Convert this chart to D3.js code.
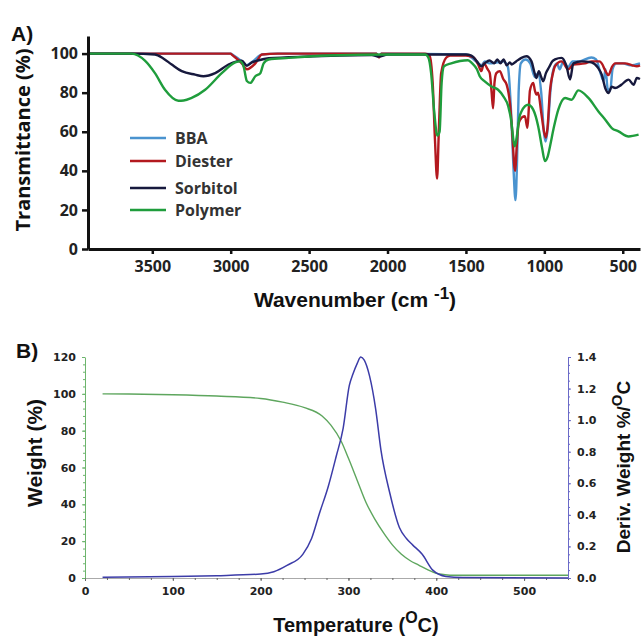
<!DOCTYPE html>
<html>
<head>
<meta charset="utf-8">
<script src="https://cdn.jsdelivr.net/npm/d3@7"></script>
<style>
  body { margin: 0; background: #fff; }
  svg { display: block; }
  .lblA { font-family: "Open Sans", sans-serif; font-weight: 700; font-size: 16px; fill: #222; }
  .lblB { font-family: "DejaVu Sans", sans-serif; font-weight: 700; font-size: 11px; fill: #222; }
  .title { font-family: "Liberation Sans", Arial, sans-serif; font-weight: 700; fill: #111; }
</style>
</head>
<body>
<div id="chart"></div>
<script>
// ---- Panel A data: [wavenumber, transmittance %]
var bba = [[3910,100],[3000,100],[2990,99.5],[2929,96],[2900,94],[2860,96],[2800,99.5],[2700,100],[2070,100],[2054,98.5],[2040,100],
  [1500,99.5],[1450,97],[1400,94],[1380,96],[1350,95],[1300,95.5],[1260,96],[1232,93],[1212,70],[1196,40],[1184,25],[1174,45],
  [1164,80],[1150,95],[1120,97],[1090,95],[1060,88],[1040,90],[1020,80],[1003,60],[992,55],[978,62],[962,80],[942,92],[920,95],
  [902,92],[880,96],[850,93],[820,96],[780,96],[700,98],[670,97],[642,90],[622,86],[610,92],[596,82],[580,81],[565,92],[540,95],
  [500,95],[450,94],[390,95]];
var diester = [[3910,100],[3000,100],[2993,99.5],[2929,95],[2897,92],[2843,95],[2801,99.5],[2700,100],[2070,100],[2054,98],[2040,100],
  [1760,100],[1732,99],[1712,85],[1697,55],[1684,36],[1673,60],[1658,90],[1625,98],[1600,99],[1500,99],[1450,98],[1420,94],
  [1402,91],[1385,95],[1362,92],[1348,90],[1336,80],[1327,72],[1318,85],[1306,90],[1284,91],[1262,87],[1240,84],[1220,75],
  [1205,60],[1191,42],[1185,40],[1178,50],[1166,63],[1156,66],[1124,68],[1108,62],[1099,72],[1092,81],[1071,85],[1060,81],
  [1050,79],[1040,80],[1020,70],[1002,60],[990,57],[980,62],[964,81],[945,90],[932,93.5],[890,96],[847,92],[815,94.4],
  [741,95],[698,96],[650,96],[634,95],[610,91],[591,89],[570,93],[549,95],[485,95],[440,94],[410,93.5],[390,94]];
var sorbitol = [[3910,100],[3632,100],[3483,99.5],[3430,97.5],[3376,94.4],[3312,91],[3227,89.2],[3174,88.4],[3140,88.8],
  [3099,90],[3014,94.4],[2961,96],[2929,96.4],[2897,93.8],[2865,95.5],[2822,96.6],[2758,97.6],[2500,98.5],[2100,99.3],
  [2054,98.5],[2000,99.5],[1500,99.5],[1465,99],[1430,96],[1402,93.5],[1380,95],[1350,96.5],[1320,95],[1300,97],[1280,95],
  [1260,97],[1240,94],[1220,95.5],[1208,94.4],[1180,96],[1146,97.8],[1114,98.6],[1082,96],[1062,90],[1050,87.5],[1035,91],
  [1020,88],[1007,85.8],[990,90],[970,93],[950,96],[932,97],[890,97.8],[860,94],[836,86.7],[815,95],[762,96],[700,95.5],
  [660,93],[634,89.2],[610,82],[591,79.8],[570,83],[549,82.4],[510,84],[463,86.7],[431,84],[410,87.5],[390,87]];
var polymer = [[3910,100],[3632,100],[3547,96.4],[3483,90],[3419,81.5],[3334,75.9],[3300,76],[3249,77.3],[3163,81.5],
  [3057,90],[2971,95.5],[2940,96],[2918,93.5],[2897,86],[2875,85],[2843,88.4],[2811,90],[2790,95],[2758,97],[2630,97.8],
  [2374,99],[2000,99.5],[1760,99.5],[1740,98],[1722,90],[1702,70],[1682,58],[1668,60],[1655,85],[1640,93.5],[1594,95],
  [1487,96.6],[1460,95],[1430,92],[1412,88.4],[1380,85.8],[1337,83.2],[1295,81.5],[1260,78],[1230,73],[1210,65],[1196,55],
  [1188,52.5],[1175,58],[1160,67],[1146,70.4],[1103,73.8],[1071,71.3],[1039,62.7],[1015,52],[996,45],[980,47],[964,52.5],
  [940,62],[911,71.3],[868,77.3],[826,76.4],[783,81.2],[719,77.3],[655,70.4],[610,66],[570,61.9],[527,60.2],[463,57.6],[399,58.5]];
var seriesA = [
  {name: "BBA", values: bba, color: "#4a93cf"},
  {name: "Diester", values: diester, color: "#b3191f"},
  {name: "Sorbitol", values: sorbitol, color: "#17193d"},
  {name: "Polymer", values: polymer, color: "#1f9d3c"}
];
var wnTicks = [3500, 3000, 2500, 2000, 1500, 1000, 500];
var transTicks = [0, 20, 40, 60, 80, 100];

// ---- Panel B data: [temperature C, value]
var weight = [[20,100],[50,99.9],[100,99.5],[150,98.8],[200,97.5],[225,95.5],[250,92.5],[270,88],[280,83],[292,74],[300,65],
  [310,53],[320,41],[330,32],[340,24.5],[350,18],[360,13],[370,9.5],[380,7],[390,4.5],[400,2.5],[410,1.8],[420,1.5],[550,1.5]];
var deriv = [[20,0.005],[100,0.01],[150,0.015],[200,0.025],[215,0.04],[230,0.08],[248,0.15],[258,0.25],[267,0.41],[277,0.58],
  [286,0.77],[294,0.95],[301,1.22],[305,1.29],[310,1.36],[314,1.40],[318,1.38],[324,1.28],[331,1.07],[337,0.81],[347,0.54],
  [358,0.32],[366,0.25],[373,0.21],[384,0.15],[396,0.05],[411,0.01],[430,0.003],[550,0.0]];
var tempTicks = [0, 100, 200, 300, 400, 500];
var weightTicks = [0, 20, 40, 60, 80, 100, 120];
var derivTicks = [0, 0.2, 0.4, 0.6, 0.8, 1.0, 1.2, 1.4];

var svg = d3.select("#chart").append("svg").attr("width", 641).attr("height", 639);

// ================= Panel A =================
var xA = d3.scaleLinear().domain([3910, 390]).range([88, 640]);
var yA = d3.scaleLinear().domain([0, 109]).range([249, 36]);

var lineA = d3.line().x(d => xA(d[0])).y(d => yA(d[1])).curve(d3.curveMonotoneX);

svg.append("g").selectAll("path")
  .data(seriesA).enter().append("path")
  .attr("d", d => lineA(d.values))
  .attr("fill", "none")
  .attr("stroke", d => d.color)
  .attr("stroke-width", 2.4)
  .attr("stroke-linejoin", "round");

var axA_x = svg.append("g").attr("transform", "translate(0,249)")
  .call(d3.axisBottom(xA).tickValues(wnTicks).tickFormat(d3.format("d")).tickSize(5).tickPadding(7).tickSizeOuter(0));
var axA_y = svg.append("g").attr("transform", "translate(88,0)")
  .call(d3.axisLeft(yA).tickValues(transTicks).tickSize(6).tickPadding(4).tickSizeOuter(0));
[axA_x, axA_y].forEach(g => {
  g.select(".domain").attr("stroke", "#111").attr("stroke-width", 3);
  g.selectAll(".tick line").attr("stroke", "#111").attr("stroke-width", 2.5);
  g.selectAll(".tick text").attr("class", "lblA").attr("fill", null);
  g.attr("font-size", null).attr("font-family", null);
});

svg.append("text").attr("class", "title").attr("x", 11).attr("y", 41).attr("font-size", 21).text("A)");
svg.append("text").attr("class", "title")
  .attr("transform", "translate(30,140) rotate(-90)")
  .attr("text-anchor", "middle").attr("font-size", 20)
  .style("font-family", "'Open Sans', sans-serif")
  .text("Transmittance (%)");
var wnTitle = svg.append("text").attr("class", "title")
  .attr("x", 355).attr("y", 307).attr("text-anchor", "middle").attr("font-size", 21);
wnTitle.append("tspan").text("Wavenumber (cm ");
wnTitle.append("tspan").attr("dy", -8).attr("font-size", 17).text("-1");
wnTitle.append("tspan").attr("dy", 8).text(")");

// legend
var legY = [138, 161, 188, 210];
var leg = svg.append("g").selectAll("g").data(seriesA).enter().append("g")
  .attr("transform", (d, i) => "translate(130," + legY[i] + ")");
leg.append("line").attr("x1", 0).attr("x2", 36).attr("stroke", d => d.color).attr("stroke-width", 2.4);
leg.append("text").attr("class", "lblA").attr("x", 45).attr("dy", "0.35em").style("fill", "#333").text(d => d.name);

// ================= Panel B =================
var xB = d3.scaleLinear().domain([0, 550]).range([85, 568]);
var yB = d3.scaleLinear().domain([0, 120]).range([578, 357]);
var yB2 = d3.scaleLinear().domain([0, 1.4]).range([578, 357]);

// minor ticks
var axB_x = svg.append("g").attr("transform", "translate(0,578)");
axB_x.call(d3.axisBottom(xB).tickValues(d3.range(0, 551, 25)).tickSize(2).tickFormat(""));
axB_x.call(g => g.selectAll(".tick line").attr("stroke", "#666"));
axB_x.select(".domain").attr("stroke", "#aaa");
var axB_xMaj = svg.append("g").attr("transform", "translate(0,578)")
  .call(d3.axisBottom(xB).tickValues(tempTicks).tickSize(3).tickPadding(6).tickSizeOuter(0));
axB_xMaj.select(".domain").remove();

var axB_y = svg.append("g").attr("transform", "translate(85,0)");
axB_y.call(d3.axisLeft(yB).tickValues(d3.range(0, 121, 4)).tickSize(2).tickFormat("").tickSizeOuter(0));
axB_y.select(".domain").attr("stroke", "#6db56d");
axB_y.selectAll(".tick line").attr("stroke", "#6db56d");
var axB_yMaj = svg.append("g").attr("transform", "translate(85,0)")
  .call(d3.axisLeft(yB).tickValues(weightTicks).tickSize(3).tickPadding(6));
axB_yMaj.select(".domain").remove();
axB_yMaj.selectAll(".tick line").attr("stroke", "#6db56d");

var axB_y2 = svg.append("g").attr("transform", "translate(568,0)");
axB_y2.call(d3.axisRight(yB2).tickValues(d3.range(0, 1.401, 0.05)).tickSize(2).tickFormat("").tickSizeOuter(0));
axB_y2.select(".domain").attr("stroke", "#6a6ac8");
axB_y2.selectAll(".tick line").attr("stroke", "#6a6ac8");
var axB_y2Maj = svg.append("g").attr("transform", "translate(568,0)")
  .call(d3.axisRight(yB2).tickValues(derivTicks).tickSize(3).tickPadding(6).tickFormat(d3.format(".1f")));
axB_y2Maj.select(".domain").remove();
axB_y2Maj.selectAll(".tick line").attr("stroke", "#6a6ac8");

[axB_xMaj, axB_yMaj, axB_y2Maj].forEach(g => {
  g.selectAll(".tick text").attr("class", "lblB").attr("fill", null);
  g.attr("font-size", null).attr("font-family", null);
});
axB_xMaj.selectAll(".tick line").attr("stroke", "#666");

var lineW = d3.line().x(d => xB(d[0])).y(d => yB(d[1])).curve(d3.curveMonotoneX);
var lineD = d3.line().x(d => xB(d[0])).y(d => yB2(d[1])).curve(d3.curveMonotoneX);
svg.append("path").attr("d", lineW(weight)).attr("fill", "none").attr("stroke", "#5ea65e").attr("stroke-width", 1.4);
svg.append("path").attr("d", lineD(deriv)).attr("fill", "none").attr("stroke", "#3c3ca8").attr("stroke-width", 1.5);

svg.append("text").attr("class", "title").attr("x", 16).attr("y", 358).attr("font-size", 21).text("B)");
svg.append("text").attr("class", "title")
  .attr("transform", "translate(42,453) rotate(-90)")
  .attr("text-anchor", "middle").attr("font-size", 21).text("Weight (%)");
var dTitle = svg.append("text").attr("class", "title")
  .attr("transform", "translate(630,467) rotate(-90)")
  .attr("text-anchor", "middle").attr("font-size", 19);
dTitle.append("tspan").text("Deriv. Weight %/");
dTitle.append("tspan").attr("dy", -8).attr("font-size", 15).text("O");
dTitle.append("tspan").attr("dy", 8).text("C");
var tTitle = svg.append("text").attr("class", "title")
  .attr("x", 356).attr("y", 632).attr("text-anchor", "middle").attr("font-size", 20);
tTitle.append("tspan").text("Temperature (");
tTitle.append("tspan").attr("dy", -9).attr("font-size", 16).text("O");
tTitle.append("tspan").attr("dy", 9).text("C)");
</script>
</body>
</html>
